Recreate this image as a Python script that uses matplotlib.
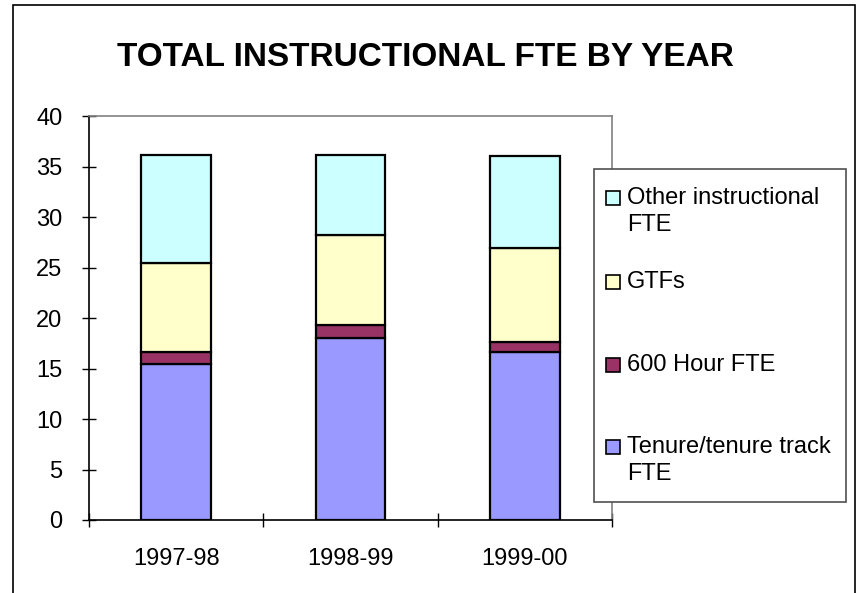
import matplotlib
matplotlib.use("Agg")
import matplotlib.pyplot as plt
from matplotlib.patches import Rectangle
import numpy as np

plt.rcParams["font.family"] = ["Liberation Sans", "DejaVu Sans"]

# === 資料 ===
years = ["1997-98", "1998-99", "1999-00"]
tenure = [15.5, 18.0, 16.6]
hour600 = [1.1, 1.3, 1.0]
gtfs = [8.9, 8.9, 9.4]
other = [10.7, 7.95, 9.1]

series_names = ["Tenure/tenure track\nFTE", "600 Hour FTE", "GTFs", "Other instructional\nFTE"]
series_colors = ["#9999FF", "#993366", "#FFFFCC", "#CCFFFF"]

W, H = 857, 593
fig = plt.figure(figsize=(W / 100, H / 100), dpi=100)

# 外框
fig.patches.append(Rectangle((12.7 / W, -0.1), (855 - 12.7) / W, 1.1 - 5 / H,
                             transform=fig.transFigure, fill=False,
                             edgecolor="black", linewidth=1.2, clip_on=False))

ax = fig.add_axes([89 / W, (H - 520) / H, (612 - 89) / W, (520 - 116.3) / H])

x = np.arange(len(years))
bottom = np.zeros(len(years))
for vals, c in zip([tenure, hour600, gtfs, other], series_colors):
    ax.bar(x, vals, width=0.40, bottom=bottom, color=c, edgecolor="black",
           linewidth=1.6, zorder=3)
    bottom += np.array(vals)

ax.set_xlim(-0.5, len(years) - 0.5)
ax.set_ylim(0, 40)
ax.set_yticks(np.arange(0, 41, 5))
ax.tick_params(axis="y", direction="inout", length=10.5, width=1, labelsize=17, pad=14)
ax.set_xticks(np.arange(-0.5, len(years), 1))
ax.set_xticklabels([])
ax.set_xticks(x, minor=True)
ax.set_xticklabels(years, minor=True)
ax.tick_params(axis="x", which="major", direction="inout", length=10.5, width=1)
ax.tick_params(axis="x", which="minor", length=0, labelsize=17, pad=20)

ax.spines["left"].set_color("black")
ax.spines["bottom"].set_color("black")
ax.spines["top"].set_color("#808080")
ax.spines["right"].set_color("#808080")
for s in ax.spines.values():
    s.set_linewidth(1.2)

fig.text(425 / W, 1 - 57 / H, "TOTAL INSTRUCTIONAL FTE BY YEAR", ha="center",
         va="center", fontsize=24, fontweight="bold")

# 圖例 (手動擺放)
fig.patches.append(Rectangle((594 / W, 1 - 502 / H), (846 - 594) / W, (502 - 169) / H,
                             transform=fig.transFigure, facecolor="white",
                             edgecolor="#505050", linewidth=1.2, zorder=5))
entry_y = [447, 365, 281.7, 197.7]   # 第一行中心 (px)
line_gap = 27.3
for name, c, yc in zip(series_names, series_colors, entry_y):
    fig.patches.append(Rectangle((606 / W, 1 - (yc + 7) / H), 14 / W, 14 / H,
                                 transform=fig.transFigure, facecolor=c,
                                 edgecolor="black", linewidth=1.2, zorder=6))
    for i, line in enumerate(name.split("\n")):
        fig.text(627 / W, 1 - (yc + i * line_gap) / H, line, ha="left",
                 va="center", fontsize=17, zorder=7)

plt.savefig("out.png", dpi=100)
